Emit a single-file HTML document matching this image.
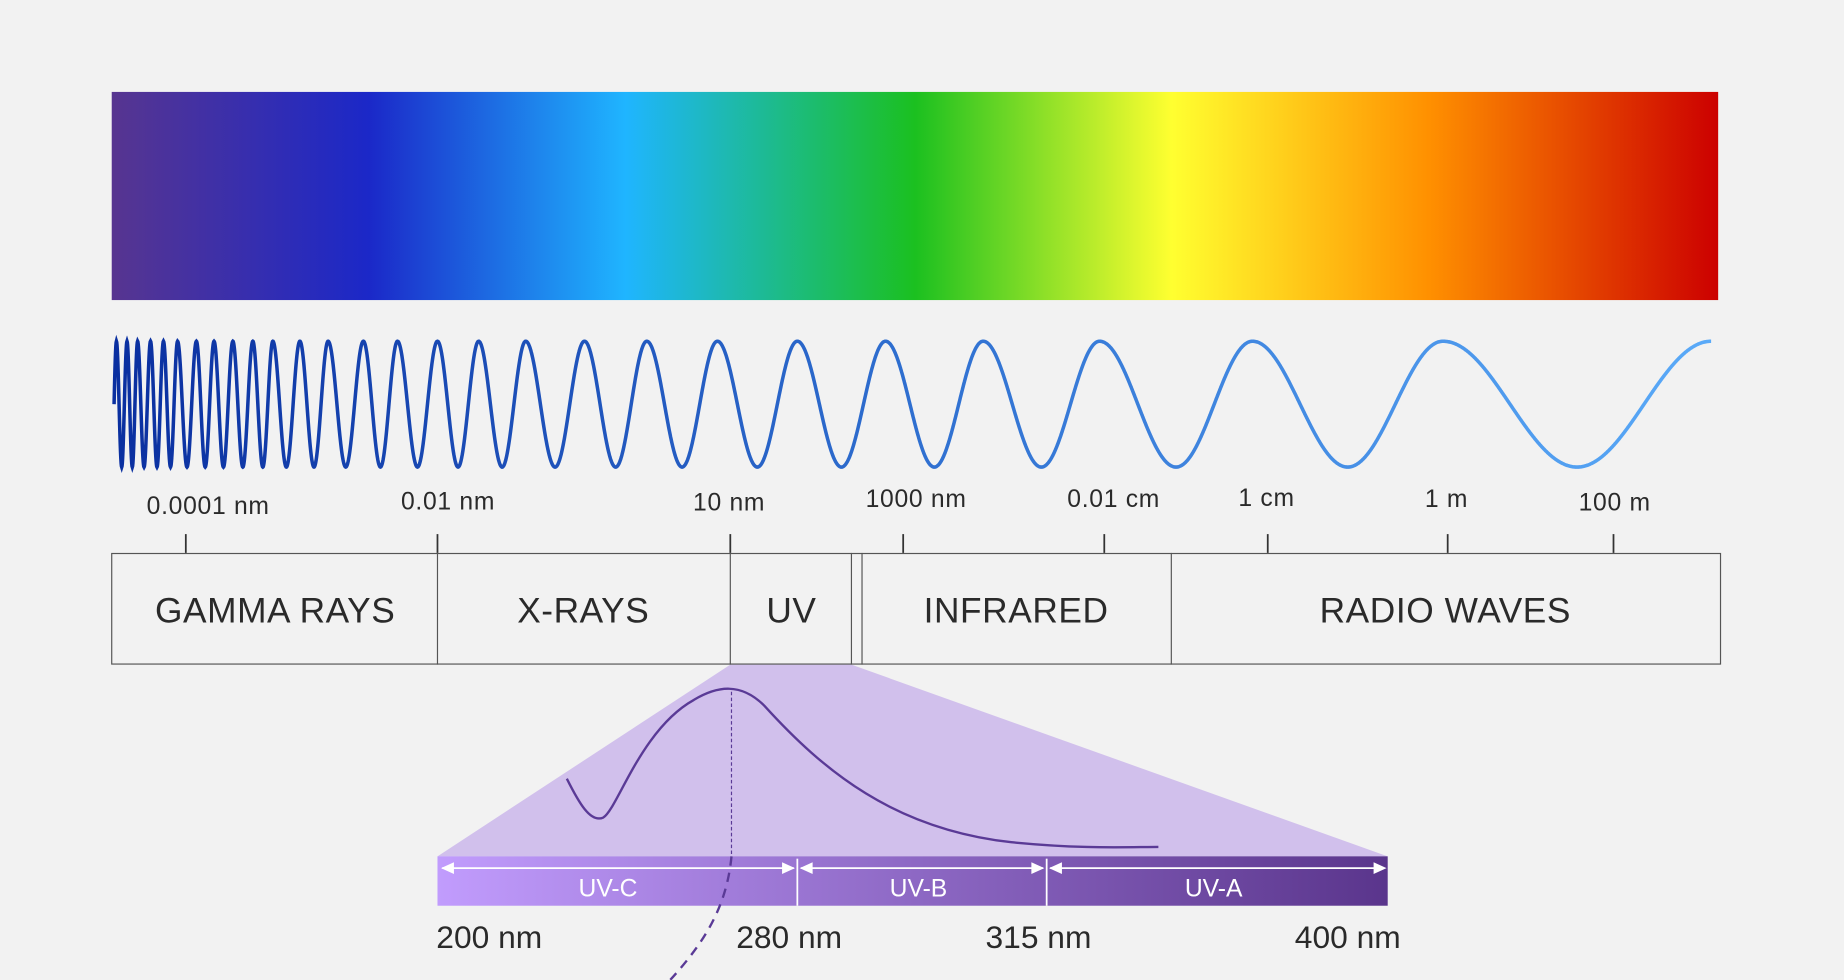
<!DOCTYPE html>
<html><head><meta charset="utf-8"><style>
html,body{margin:0;padding:0;background:#f2f2f2;}
svg{display:block}
text{font-family:"Liberation Sans",sans-serif;fill:#2a2a2a}
</style></head><body>
<svg id="s" width="1844" height="980" viewBox="0 0 1568 833">
<defs>
<linearGradient id="spec" x1="0" x2="1">
<stop offset="0" stop-color="#573590"/><stop offset="0.16" stop-color="#1b28c8"/>
<stop offset="0.32" stop-color="#1fb5ff"/><stop offset="0.50" stop-color="#1bc020"/>
<stop offset="0.66" stop-color="#ffff30"/><stop offset="0.82" stop-color="#ff9000"/>
<stop offset="1" stop-color="#cc0000"/></linearGradient>
<linearGradient id="wv" x1="0" x2="1"><stop offset="0" stop-color="#0a2fa0"/><stop offset="0.5" stop-color="#2f6fd0"/><stop offset="1" stop-color="#5aaaf8"/></linearGradient>
<linearGradient id="uv" x1="0" x2="1"><stop offset="0" stop-color="#c19cfd"/><stop offset="1" stop-color="#5a358c"/></linearGradient>
</defs>
<rect x="95" y="78" width="1366" height="177" fill="url(#spec)"/>
<path id="wave" fill="none" stroke="url(#wv)" stroke-width="3"/>
<g font-size="21" letter-spacing="0.6">
<text x="177" y="437" text-anchor="middle">0.0001 nm</text>
<text x="381" y="433" text-anchor="middle">0.01 nm</text>
<text x="620" y="434" text-anchor="middle">10 nm</text>
<text x="779" y="431" text-anchor="middle">1000 nm</text>
<text x="947" y="431" text-anchor="middle">0.01 cm</text>
<text x="1077" y="430" text-anchor="middle">1 cm</text>
<text x="1230" y="431" text-anchor="middle">1 m</text>
<text x="1373" y="434" text-anchor="middle">100 m</text>
</g>
<g stroke="#333" stroke-width="1.5">
<line x1="158" y1="454" x2="158" y2="470"/><line x1="372" y1="454" x2="372" y2="470"/>
<line x1="621" y1="454" x2="621" y2="470"/><line x1="768" y1="454" x2="768" y2="470"/>
<line x1="939" y1="454" x2="939" y2="470"/><line x1="1078" y1="454" x2="1078" y2="470"/>
<line x1="1231" y1="454" x2="1231" y2="470"/><line x1="1372" y1="454" x2="1372" y2="470"/>
</g>
<polygon points="621,565 724,565 1180,728 372,728" fill="#d1c0ec"/>
<g fill="none" stroke="#555" stroke-width="1">
<rect x="95" y="470.5" width="1368" height="94"/>
<line x1="372" y1="470" x2="372" y2="565"/><line x1="621" y1="470" x2="621" y2="565"/>
<line x1="724" y1="470" x2="724" y2="565"/><line x1="733" y1="470" x2="733" y2="565"/>
<line x1="996" y1="470" x2="996" y2="565"/>
</g>
<g font-size="30" text-anchor="middle" letter-spacing="0.5">
<text x="234" y="529">GAMMA RAYS</text><text x="496" y="529">X-RAYS</text>
<text x="673" y="529">UV</text><text x="864" y="529">INFRARED</text>
<text x="1229" y="529">RADIO WAVES</text>
</g>
<rect x="372" y="728" width="808" height="42" fill="url(#uv)"/>
<g stroke="#fff" stroke-width="1.5">
<line x1="678" y1="730" x2="678" y2="770"/><line x1="890" y1="730" x2="890" y2="770"/>
<line x1="376" y1="738" x2="675" y2="738"/><line x1="681" y1="738" x2="887" y2="738"/><line x1="893" y1="738" x2="1177" y2="738"/>
</g>
<g fill="#fff">
<polygon points="375,738 386,733 386,743"/><polygon points="676,738 665,733 665,743"/>
<polygon points="680,738 691,733 691,743"/><polygon points="888,738 877,733 877,743"/>
<polygon points="892,738 903,733 903,743"/><polygon points="1179,738 1168,733 1168,743"/>
</g>
<g font-size="21" text-anchor="middle">
<text x="517" y="762" style="fill:#fff">UV-C</text>
<text x="781" y="762" style="fill:#fff">UV-B</text>
<text x="1032" y="762" style="fill:#fff">UV-A</text>
</g>
<g font-size="27">
<text x="371" y="806">200 nm</text><text x="626" y="806">280 nm</text>
<text x="838" y="806">315 nm</text><text x="1101" y="806">400 nm</text>
</g>
<path d="M482,662 C492,682 502,700 513,695 C525,688 545,620 590,595 C610,583 630,580 650,600 C700,655 760,705 860,716 C920,722 960,720 985,720" fill="none" stroke="#5a3a96" stroke-width="2"/>
<line x1="622" y1="588" x2="622" y2="728" stroke="#5a3a96" stroke-width="1" stroke-dasharray="3,2"/>
<path d="M622,728 C618,770 600,800 570,833" fill="none" stroke="#5a3a96" stroke-width="2" stroke-dasharray="8,6"/>
</svg>
<script>
(function(){
var P=[91,99,108,117,128,139,151,167,182,198,215,232,255,279,309,338,372,407,447,497,550,610,678,753,836,935,1065,1227,1455];
var d="",first=true;
for(var k=0;k<P.length-1;k++){
  var a=P[k],b=P[k+1];
  for(var x=a;x<b;x+=0.25){
    if(x<97)continue;
    var ph=2*Math.PI*(k+(x-a)/(b-a));
    var y=343.5-53.5*Math.cos(ph);
    d+=(first?"M":"L")+x.toFixed(2)+","+y.toFixed(1);first=false;
  }
}
d+="L1455,290";
document.getElementById("wave").setAttribute("d",d);
})();
</script>
</body></html>
